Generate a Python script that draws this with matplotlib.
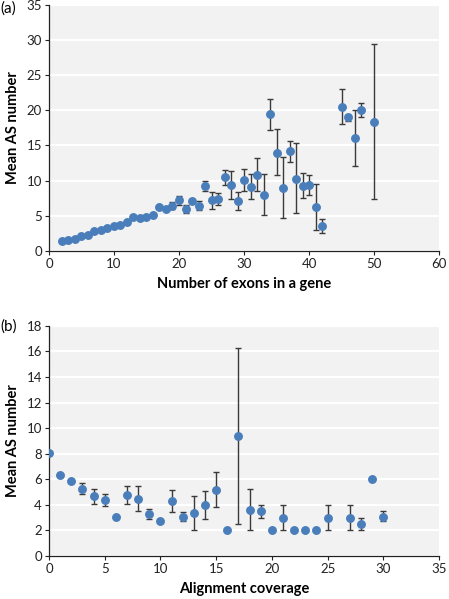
import matplotlib.pyplot as plt

plt.rcParams["font.family"] = ["Lato", "DejaVu Sans"]

# panel (a): mean AS number vs number of exons
exons = [2, 3, 4, 5, 6, 7, 8, 9, 10, 11, 12, 13, 14, 15, 16, 17, 18, 19, 20,
         21, 22, 23, 24, 25, 26, 27, 28, 29, 30, 31, 32, 33, 34, 35, 36, 37,
         38, 39, 40, 41, 42, 45, 46, 47, 48, 50]
as_mean_a = [1.42, 1.5, 1.7, 2.1, 2.3, 2.8, 3.0, 3.3, 3.5, 3.65, 4.1, 4.8,
             4.65, 4.85, 5.1, 6.25, 5.9, 6.4, 7.2, 6.0, 7.15, 6.4, 9.2, 7.2,
             7.35, 10.45, 9.4, 7.1, 10.1, 9.1, 10.85, 8.0, 19.43, 14.0, 9.0,
             14.2, 10.3, 9.3, 9.35, 6.2, 3.5, 20.5, 19.0, 16.0, 20.0, 18.3]
as_top_a = [1.42, 1.5, 1.7, 2.1, 2.3, 2.8, 3.0, 3.3, 3.5, 3.65, 4.1, 4.8,
            4.65, 4.85, 5.1, 6.25, 5.9, 7.0, 7.8, 6.5, 7.15, 7.05, 10.0, 8.4,
            8.3, 11.5, 11.35, 8.4, 11.7, 10.9, 13.25, 10.95, 21.66, 17.35,
            13.4, 15.65, 15.3, 11.05, 10.8, 9.55, 4.5, 23.0, 19.4, 20.0, 21.0,
            29.4]
as_bot_a = [1.42, 1.5, 1.7, 2.1, 2.3, 2.8, 3.0, 3.3, 3.5, 3.65, 4.1, 4.8,
            4.65, 4.85, 5.1, 6.25, 5.9, 5.9, 6.6, 5.45, 7.15, 5.85, 8.5, 6.0,
            6.5, 9.4, 7.35, 5.85, 8.5, 7.35, 8.5, 5.1, 17.25, 10.77, 4.75,
            12.6, 5.35, 7.5, 7.9, 2.95, 2.5, 18.05, 18.5, 12.05, 19.0, 7.35]

# panel (b): mean AS number vs alignment coverage
coverage = [0, 1, 2, 3, 4, 5, 6, 7, 8, 9, 10, 11, 12, 13, 14, 15, 16, 17, 18,
            19, 20, 21, 22, 23, 24, 25, 27, 28, 29, 30]
as_mean_b = [8.07, 6.35, 5.87, 5.25, 4.65, 4.36, 3.08, 4.78, 4.46, 3.24, 2.69,
             4.28, 3.08, 3.34, 4.02, 5.17, 2.0, 9.37, 3.6, 3.5, 2.0, 3.0, 2.0,
             2.0, 2.0, 3.0, 3.0, 2.5, 6.0, 3.08]
as_top_b = [8.07, 6.35, 6.0, 5.67, 5.25, 4.88, 3.08, 5.5, 5.46, 3.63, 2.69,
            5.14, 3.47, 4.65, 5.09, 6.55, 2.0, 16.3, 5.2, 4.0, 2.0, 4.0, 2.0,
            2.0, 2.0, 4.0, 4.0, 3.0, 6.0, 3.5]
as_bot_b = [8.07, 6.35, 5.75, 4.83, 4.05, 3.89, 3.08, 4.05, 3.5, 2.85, 2.69,
            3.45, 2.69, 2.0, 2.9, 3.84, 2.0, 2.48, 2.0, 3.0, 2.0, 2.0, 2.0,
            2.0, 2.0, 2.0, 2.0, 2.0, 6.0, 2.69]

BLUE = "#4a7ebb"
BG = "#f2f2f2"


def draw_panel(ax, x, y, top, bot, xlim, ylim, xstep, ystep, xlabel):
    yerr = [[m - b for m, b in zip(y, bot)], [t - m for m, t in zip(y, top)]]
    ax.errorbar(x, y, yerr=yerr, fmt="o", color=BLUE, markersize=5.4,
                ecolor="#3a3a3a", elinewidth=1.0, capsize=2, capthick=1.0,
                zorder=3)
    ax.set_facecolor(BG)
    ax.set_xlim(*xlim)
    ax.set_ylim(*ylim)
    ax.set_xticks(range(xlim[0], xlim[1] + 1, xstep))
    ax.set_yticks(range(ylim[0], ylim[1] + 1, ystep))
    ax.grid(axis="y", color="white", linewidth=1.6)
    ax.set_axisbelow(True)
    for s in ("top", "right"):
        ax.spines[s].set_visible(False)
    for s in ("left", "bottom"):
        ax.spines[s].set_color("#222222")
        ax.spines[s].set_linewidth(0.9)
    ax.tick_params(labelsize=9.5, length=3, width=0.8, colors="#222222",
                   pad=2)
    ax.set_xlabel(xlabel, fontsize=10.5, fontweight="bold", labelpad=5)
    ax.set_ylabel("Mean AS number", fontsize=10.5, fontweight="bold",
                  labelpad=5)


fig = plt.figure(figsize=(4.49, 5.99), dpi=100)
ax_a = fig.add_axes([0.109, 0.581, 0.869, 0.411])
ax_b = fig.add_axes([0.109, 0.072, 0.869, 0.384])

draw_panel(ax_a, exons, as_mean_a, as_top_a, as_bot_a, (0, 60), (0, 35),
           10, 5, "Number of exons in a gene")
draw_panel(ax_b, coverage, as_mean_b, as_top_b, as_bot_b, (0, 35), (0, 18),
           5, 2, "Alignment coverage")

fig.text(0.0, 0.998, "(a)", fontsize=11, va="top", ha="left")
fig.text(0.0, 0.466, "(b)", fontsize=11, va="top", ha="left")

fig.savefig("out.png", dpi=100)
